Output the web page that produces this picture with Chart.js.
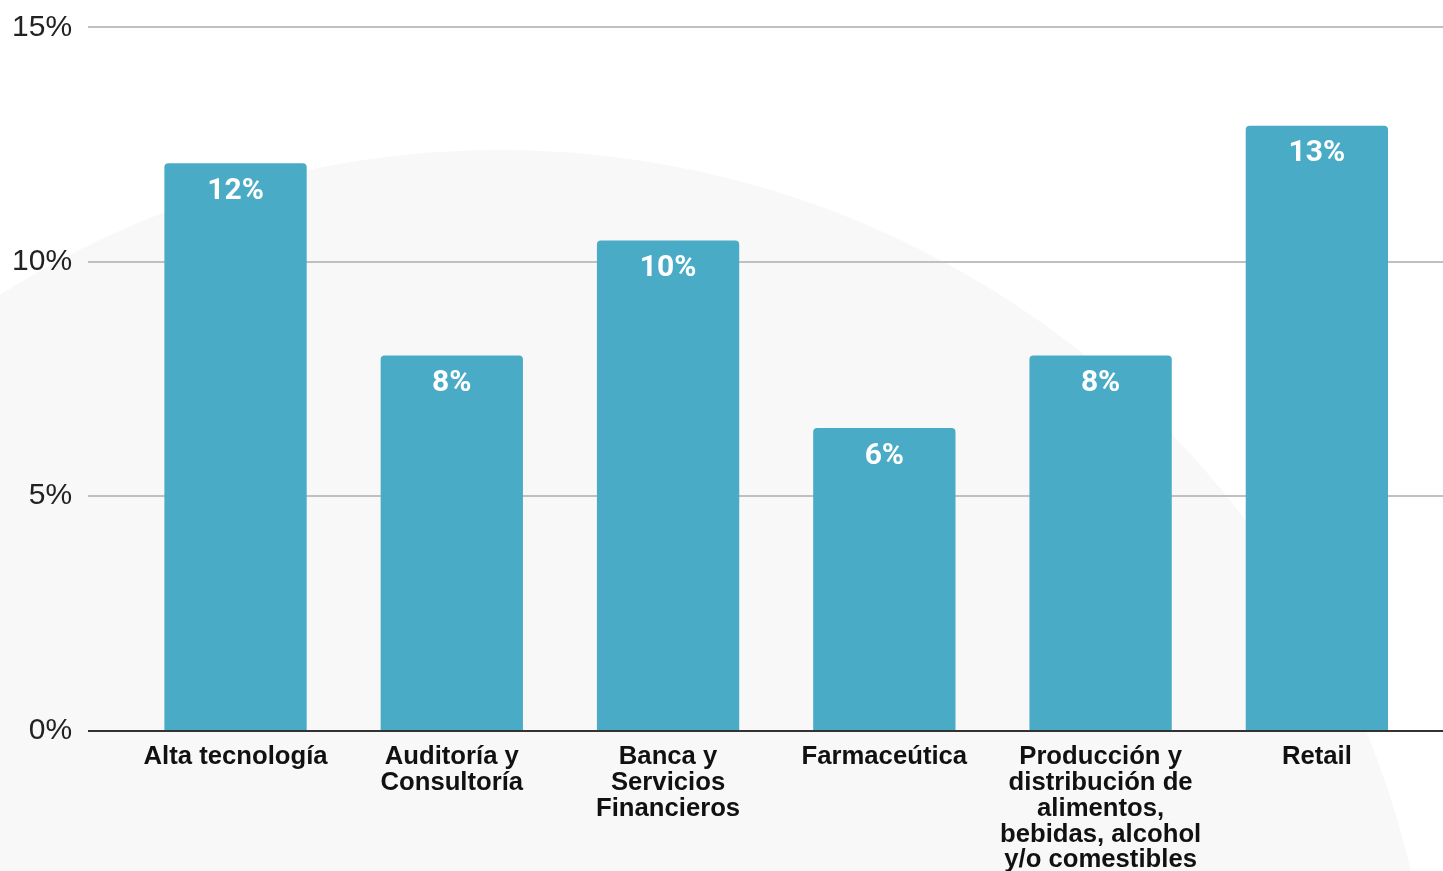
<!DOCTYPE html>
<html lang="es">
<head>
<meta charset="utf-8">
<title>Porcentaje por industria</title>
<script src="https://cdn.jsdelivr.net/npm/chart.js@4/dist/chart.umd.min.js"></script>
<style>
  html, body { margin: 0; padding: 0; background: #ffffff; overflow: hidden; }
  #wrap { width: 1443px; height: 871px; position: relative; }
  canvas { display: block; }
</style>
</head>
<body>
<div id="wrap"><canvas id="chart" width="1443" height="871"></canvas></div>
<script>
// Industries (multi-line category labels)
const categories = [
  ['Alta tecnología'],
  ['Auditoría y', 'Consultoría'],
  ['Banca y', 'Servicios', 'Financieros'],
  ['Farmaceútica'],
  ['Producción y', 'distribución de', 'alimentos,', 'bebidas, alcohol', 'y/o comestibles'],
  ['Retail']
];

// Share per industry, in percent
const values = [12.1, 8.0, 10.45, 6.45, 8.0, 12.9];

// Y-axis ticks
const yTicks = [0, 5, 10, 15];

const BAR_COLOR = '#4aabc6';
const GRID_COLOR = '#c0c0c0';
const ZERO_COLOR = '#333333';
const GRID_LEFT = 88;

// Soft background disc behind the plot
const backdrop = {
  id: 'backdrop',
  beforeDraw(chart) {
    const { ctx, width, height } = chart;
    ctx.save();
    ctx.fillStyle = '#ffffff';
    ctx.fillRect(0, 0, width, height);
    ctx.beginPath();
    ctx.arc(500, 1086, 936, 0, Math.PI * 2);
    ctx.fillStyle = '#f8f8f8';
    ctx.fill();
    ctx.restore();
  }
};

// Horizontal grid lines running across the full width, zero line on top
const fullGrid = {
  id: 'fullGrid',
  beforeDatasetsDraw(chart) {
    const { ctx, width, scales: { y } } = chart;
    ctx.save();
    ctx.strokeStyle = GRID_COLOR;
    ctx.lineWidth = 2;
    y.ticks.forEach(t => {
      if (t.value === 0) return;
      const py = Math.round(y.getPixelForValue(t.value));
      ctx.beginPath();
      ctx.moveTo(GRID_LEFT, py);
      ctx.lineTo(width, py);
      ctx.stroke();
    });
    ctx.restore();
  },
  afterDatasetsDraw(chart) {
    const { ctx, width, scales: { y } } = chart;
    ctx.save();
    const py = Math.round(y.getPixelForValue(0));
    ctx.strokeStyle = ZERO_COLOR;
    ctx.lineWidth = 2;
    ctx.beginPath();
    ctx.moveTo(GRID_LEFT, py);
    ctx.lineTo(width, py);
    ctx.stroke();

    // value labels inside the top of each bar
    const meta = chart.getDatasetMeta(0);
    ctx.fillStyle = '#ffffff';
    ctx.font = 'bold 30px Roboto, "Liberation Sans", sans-serif';
    ctx.textAlign = 'center';
    ctx.textBaseline = 'middle';
    meta.data.forEach((bar, i) => {
      const v = chart.data.datasets[0].data[i];
      ctx.fillText(Math.round(v) + '%', bar.x, bar.y + 28);
    });
    ctx.restore();
  }
};

new Chart(document.getElementById('chart'), {
  type: 'bar',
  data: {
    labels: categories,
    datasets: [{
      data: values,
      backgroundColor: BAR_COLOR,
      borderWidth: 0,
      borderRadius: { topLeft: 4, topRight: 4, bottomLeft: 0, bottomRight: 0 },
      borderSkipped: 'start',
      barPercentage: 0.658,
      categoryPercentage: 1.0
    }]
  },
  options: {
    responsive: false,
    animation: false,
    layout: { padding: { top: 0, right: 18, bottom: 0, left: 0 } },
    plugins: {
      legend: { display: false },
      tooltip: { enabled: false }
    },
    scales: {
      x: {
        grid: { display: false, drawTicks: false },
        border: { display: false },
        ticks: {
          color: '#111111',
          font: { family: '"Liberation Sans", Arial, sans-serif', size: 25.7, weight: 'bold', lineHeight: 1.0 },
          padding: 14,
          maxRotation: 0,
          autoSkip: false
        },
        afterFit(scale) { scale.height = 140.5; }
      },
      y: {
        min: 0,
        max: 15,
        afterBuildTicks(scale) { scale.ticks = yTicks.map(v => ({ value: v })); },
        grid: {
          display: true,
          color: 'rgba(0,0,0,0)',
          drawOnChartArea: false,
          drawTicks: true,
          tickLength: 46
        },
        border: { display: false },
        ticks: {
          color: '#222222',
          font: { family: '"Liberation Sans", Arial, sans-serif', size: 30 },
          padding: 9.3,
          callback: v => v + '%'
        },
        afterFit(scale) { scale.width = 127.4; }
      }
    }
  },
  plugins: [backdrop, fullGrid]
});
</script>
</body>
</html>
